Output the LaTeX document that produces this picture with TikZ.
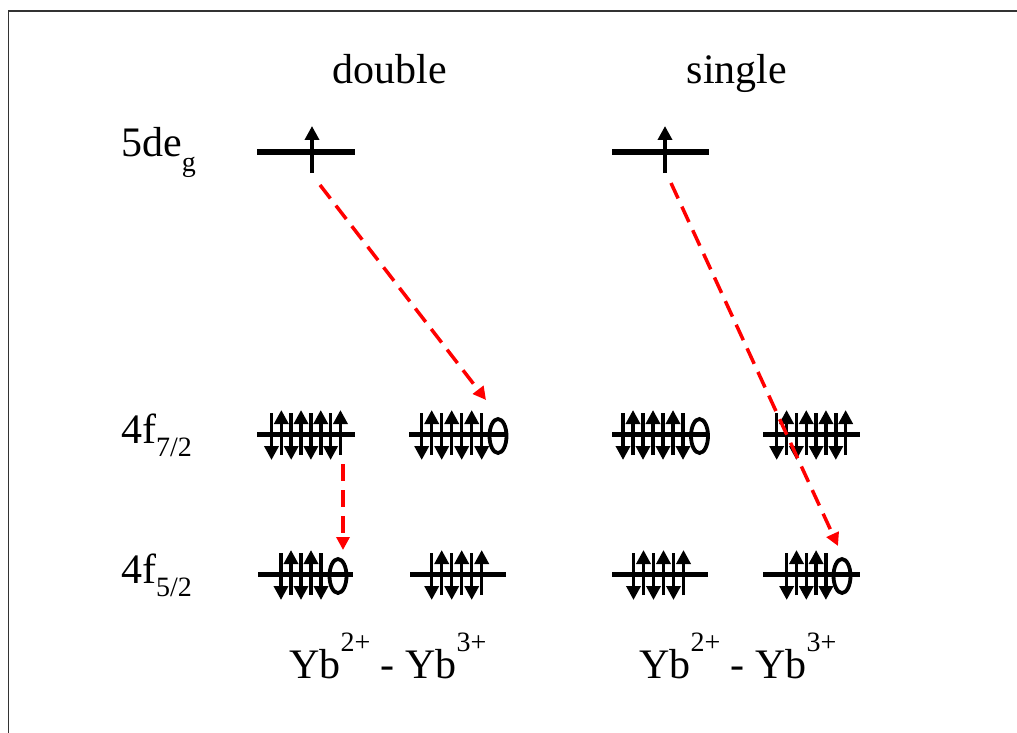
\documentclass[tikz,border=0pt]{standalone}
\usepackage{fontspec}
\setmainfont{Liberation Serif}
\usetikzlibrary{arrows.meta}
\tikzset{
  lvl/.style={line width=5pt},
  elec/.style={line width=3.5pt,-{Triangle[width=14pt,length=14pt]}},
  holestyle/.style={line width=3.8pt},
  trans/.style={red, line width=3.5pt, dash pattern=on 17pt off 9pt, -{Triangle[width=13pt,length=13pt]}},
  lbl/.style={font=\fontsize{42}{42}\selectfont, inner sep=0pt},
  frame/.style={line width=1.5pt, black!80},
}
\newcommand{\smallfs}{\fontsize{28}{28}\selectfont}
\newcommand{\eup}[2]{\draw[elec] (#1,#2+21) -- (#1,#2-24);}
\newcommand{\edn}[2]{\draw[elec] (#1,#2-21) -- (#1,#2+26);}
\newcommand{\ehole}[2]{\draw[holestyle] (#1,#2+2) ellipse [x radius=8.5pt, y radius=17pt];}
\newcommand{\lev}[3]{\draw[lvl] (#1,#3) -- (#2,#3);}
\begin{document}
\begin{tikzpicture}[x=1pt,y=-1pt]
\useasboundingbox (0,0) rectangle (1017,733);
% frame
\draw[frame] (8.5,733) -- (8.5,11) -- (1017,11);
% labels
\node[lbl,anchor=base] (tdouble) at (390,84) {double};
\node[lbl,anchor=base] (tsingle) at (737,84) {single};
\node[lbl,anchor=base west] (t5d) at (121,157) {5de\raisebox{-15pt}{\smallfs g}};
\node[lbl,anchor=base west] (t4f7) at (121,443) {4f\raisebox{-13pt}{\smallfs 7/2}};
\node[lbl,anchor=base west] (t4f5) at (121,583) {4f\raisebox{-13pt}{\smallfs 5/2}};
\node[lbl,anchor=base west] (yb1) at (289,678) {Yb\raisebox{27pt}{\smallfs 2+} - Yb\raisebox{27pt}{\smallfs 3+}};
\node[lbl,anchor=base west] (yb2) at (639,678) {Yb\raisebox{27pt}{\smallfs 2+} - Yb\raisebox{27pt}{\smallfs 3+}};
% 5d eg levels
\lev{257}{355}{152}
\draw[elec] (312,173) -- (312,126);
\lev{612}{709}{152}
\draw[elec] (665,173) -- (665,126);
% 4f7/2 levels
\lev{257}{355}{434}
\foreach \k in {0,2,4,6} {\edn{271.5+9.85*\k}{434}}
\foreach \k in {1,3,5,7} {\eup{271.5+9.85*\k}{434}}
\lev{409}{506}{434}
\foreach \k in {0,2,4,6} {\edn{421.7+10*\k}{434}}
\foreach \k in {1,3,5} {\eup{421.7+10*\k}{434}}
\ehole{498}{434}
\lev{612}{708}{434}
\foreach \k in {0,2,4,6} {\edn{623+10*\k}{434}}
\foreach \k in {1,3,5} {\eup{623+10*\k}{434}}
\ehole{699.5}{434}
\lev{763}{860}{434}
\foreach \k in {0,2,4,6} {\edn{776.7+9.85*\k}{434}}
\foreach \k in {1,3,5,7} {\eup{776.7+9.85*\k}{434}}
% 4f5/2 levels
\lev{258}{353}{574}
\foreach \k in {0,2,4} {\edn{281+10*\k}{574}}
\foreach \k in {1,3} {\eup{281+10*\k}{574}}
\ehole{338}{574}
\lev{410}{506}{574}
\foreach \k in {0,2,4} {\edn{431.7+10*\k}{574}}
\foreach \k in {1,3,5} {\eup{431.7+10*\k}{574}}
\lev{612}{708}{574}
\foreach \k in {0,2,4} {\edn{633.5+10*\k}{574}}
\foreach \k in {1,3,5} {\eup{633.5+10*\k}{574}}
\lev{763}{860}{574}
\foreach \k in {0,2,4} {\edn{786.7+9.8*\k}{574}}
\foreach \k in {1,3} {\eup{786.7+9.8*\k}{574}}
\ehole{842}{574}
% transitions
\coordinate (s1) at (320,185);
\coordinate (e1) at (486,400);
\coordinate (s2) at (343,464);
\coordinate (e2) at (343,550);
\coordinate (s3) at (671,183);
\coordinate (e3) at (838,546);
\draw[trans] (s1) -- (e1);
\draw[trans] (s2) -- (e2);
\draw[trans] (s3) -- (e3);
\end{tikzpicture}
\end{document}
